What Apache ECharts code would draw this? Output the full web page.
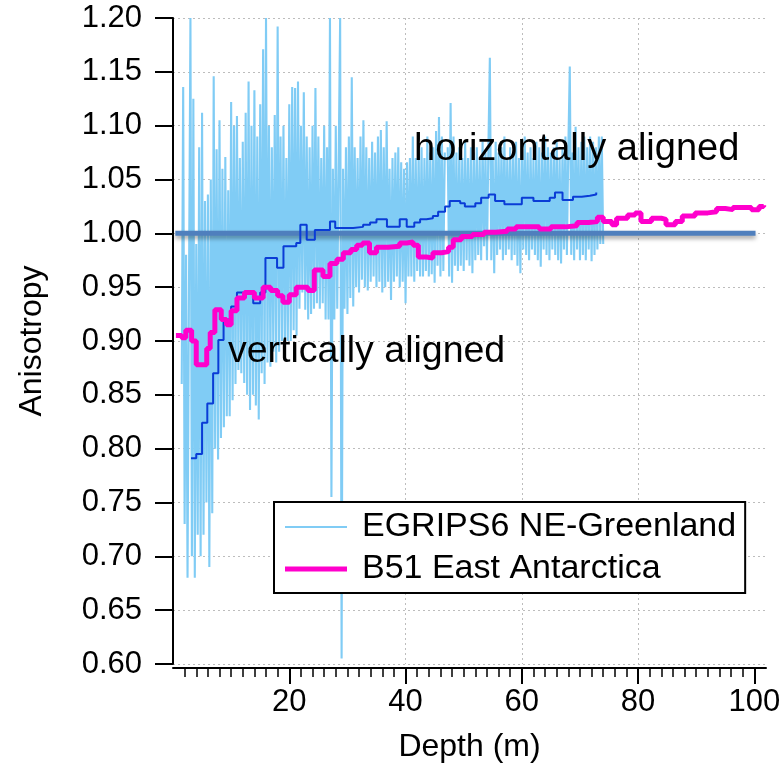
<!DOCTYPE html>
<html>
<head>
<meta charset="utf-8">
<script src="https://cdn.jsdelivr.net/npm/echarts@6/dist/echarts.min.js"></script>
<style>
  html, body { margin: 0; padding: 0; background: #fff; }
  #chart { width: 784px; height: 775px; }
</style>
</head>
<body>
<div id="chart"></div>
<script>
(function () {
  'use strict';

  // EGRIPS6 raw anisotropy, sampled every 0.25 m from 1.5 m (null = gap in core)
  const egripsDepthStart = 1.5;
  const egripsDepthStep = 0.25;
  const egripsValues = [
    0.86, 1.136, 0.73, 0.98, 0.68, 0.95, 1.20, 0.70, 1.125, 0.68,
    0.99, 0.72, 1.08, 0.70, 1.112, 0.72, 1.03, 0.75, 1.036, 0.69,
    1.05, 0.74, 1.146, 0.80, 1.078, 0.79, 1.105, 0.81, 1.06, 0.82,
    1.071, 0.83, 1.04, 0.83, 1.122, 0.845, 1.10, 0.86, 1.109, 0.873,
    1.07, 0.87, 1.085, 0.861, 1.112, 0.85, 1.141, 0.836, 1.10, 0.85,
    1.133, 0.84, 1.09, 0.827, 1.12, 0.87, 1.171, 0.86, 1.20, 0.88,
    1.10, 0.876, 1.08, 0.89, 1.11, 0.88, 1.192, 0.89, 1.09, 0.90,
    1.10, 0.885, 1.07, 0.90, 1.12, 0.90, 1.136, 0.91, 1.135, 0.905,
    1.141, 0.93, 1.10, 0.945, 1.131, 0.929, 1.09, 0.92, 1.08, 0.925,
    1.10, 0.93, 1.135, 0.935, 1.09, 0.93, 1.07, 0.935, 1.10, 0.92,
    1.08, 0.92, 1.20, 0.755, 1.06, 0.92, 1.10, 0.93, 1.07, 1.20,
    0.605, 1.06, 0.93, 1.08, 0.925, 1.09, 0.94, 1.145, 0.932, 1.08,
    0.95, 1.07, 0.945, 1.09, 0.957, 1.105, 0.95, 1.08, 0.947, 1.07,
    0.955, 1.085, 0.96, 1.075, 0.95, 1.09, 0.955, 1.096, 0.945, 1.08,
    0.95, 1.104, 0.955, 1.06, 0.938, 1.07, 0.955, 1.075, 0.96, 1.08,
    0.95, 1.066, 0.955, 1.06, 0.935, 1.066, 0.96, 1.07, 0.96, 1.09,
    0.955, 1.07, 0.965, 1.075, 0.96, 1.08, 0.96, 1.07, 0.965, 1.09,
    0.96, 1.075, 0.962, 1.08, 0.954, 1.095, 0.97, 1.108, 0.96, 1.09,
    0.965, 1.075, null, 1.08, 0.96, 1.121, 0.954, 1.09, 0.97, 1.075,
    0.965, 1.08, 0.97, 1.07, 0.965, 1.085, 0.975, 1.07, 0.97, 1.08,
    0.963, 1.075, 0.975, 1.08, 0.98, 1.07, 0.975, 1.085, 0.988, 1.075,
    0.975, 1.08, 1.163, 0.975, 1.07, 0.963, 1.085, 0.98, 1.075, 0.985,
    1.08, 0.975, 1.09, 0.98, 1.07, 0.985, 1.08, 0.975, 1.075, 0.98,
    1.085, 0.97, 1.07, 0.963, 1.08, 0.985, 1.09, 0.98, 1.075, 0.975,
    1.08, 0.985, 1.07, 0.98, 1.085, 0.975, 1.08, 0.969, 1.075, 0.985,
    1.09, 0.98, 1.08, 0.975, 1.075, 0.985, 1.08, 0.98, 1.085, 0.975,
    1.07, 0.972, 1.08, 0.985, 1.09, 0.98, 1.08, 1.155, 0.98, 1.075,
    0.975, 1.099, 0.985, 1.08, 0.975, 1.085, 0.98, 1.09, 0.975, 1.08,
    0.985, 1.09, 0.974, 1.085, 0.98, 1.08, 0.985, 1.09, 0.99, 1.09,
    0.99
  ];

  // EGRIPS6 running mean (step starts)
  const meanDepth = [
    3.1, 4.0, 5.0, 5.9, 6.9, 7.8, 8.7, 10.0, 11.0, 12.6,
    13.8, 15.0, 15.9, 17.9, 19.0, 21.2, 21.9, 23.0, 24.4, 25.6,
    27.0, 27.9, 31.0, 32.7, 33.9, 35.0, 36.8, 39.0, 40.2, 41.5,
    42.5, 43.6, 44.7, 45.6, 46.8, 47.6, 49.4, 50.2, 52.0, 53.0,
    54.3, 55.4, 57.0, 60.0, 62.0, 64.8, 65.7, 67.0, 68.8, 70.3,
    71.7, 72.8
  ];
  const meanValue = [
    0.791, 0.795, 0.824, 0.842, 0.870, 0.901, 0.920, 0.932, 0.945, 0.945,
    0.935, 0.945, 0.977, 0.968, 0.988, 0.991, 1.008, 0.994, 1.003, 1.003,
    1.011, 1.005, 1.006, 1.008, 1.010, 1.013, 1.006, 1.013, 1.006, 1.010,
    1.013, 1.014, 1.016, 1.020, 1.025, 1.030, 1.028, 1.025, 1.028, 1.033,
    1.036, 1.030, 1.027, 1.033, 1.030, 1.033, 1.038, 1.031, 1.034, 1.035,
    1.036, 1.038
  ];

  // B51 East Antarctica (step starts)
  const b51Depth = [
    0.5, 1.5, 2.2, 3.2, 4.0, 5.3, 5.8, 6.4, 7.2, 8.3,
    9.2, 10.0, 11.0, 12.3, 14.0, 15.5, 16.8, 18.0, 18.9, 20.0,
    21.2, 23.2, 24.3, 25.8, 27.0, 28.2, 29.3, 30.6, 31.6, 32.6,
    33.8, 35.0, 37.0, 39.0, 40.2, 41.3, 42.2, 43.6, 44.7, 46.2,
    47.4, 48.2, 49.6, 51.5, 53.5, 55.5, 57.5, 59.0, 61.5, 63.0,
    65.0, 67.5, 69.5, 71.5, 73.0, 74.0, 75.5, 76.3, 78.2, 79.5,
    80.5, 82.3, 84.0, 84.8, 86.4, 87.6, 89.8, 92.0, 93.5, 95.0,
    96.3, 99.5, 100.8, 101.6
  ];
  const b51Value = [
    0.905, 0.903, 0.910, 0.900, 0.878, 0.878, 0.893, 0.908, 0.929, 0.920,
    0.915, 0.928, 0.940, 0.945, 0.940, 0.950, 0.947, 0.942, 0.936, 0.943,
    0.950, 0.947, 0.966, 0.960, 0.972, 0.976, 0.982, 0.985, 0.989, 0.991,
    0.982, 0.987, 0.988, 0.991, 0.992, 0.989, 0.978, 0.977, 0.982, 0.983,
    0.987, 0.994, 0.997, 0.999, 1.001, 1.002, 1.004, 1.006, 1.006, 1.004,
    1.006, 1.007, 1.010, 1.011, 1.015, 1.011, 1.008, 1.014, 1.017, 1.019,
    1.011, 1.014, 1.013, 1.008, 1.011, 1.016, 1.019, 1.020, 1.023, 1.022,
    1.024, 1.022, 1.025, 1.026
  ];

  // isotropy reference line
  const refLine = [[0.4, 1.0], [100.2, 1.0]];

  const depthMajorTicks = [20, 40, 60, 80, 100];
  const depthMinorTicks = [];
  for (let d = 2; d < 101; d += 2) { if (d % 20 !== 0) depthMinorTicks.push(d); }

  const FONT = '"Liberation Sans", Arial, sans-serif';
  const gridDash = { color: '#bdbdbd', width: 1, type: [2, 3] };
  const C_EGRIPS = '#80ccf5';
  const C_B51 = '#ff00cc';

  // legend line samples: thin guide rects at top/bottom keep the bar centred in the 62x14 box
  const thinLineIcon = 'path://M0,0h62v0.01h-62z M0,6h62v2h-62z M0,13.99h62v0.01h-62z';
  const thickLineIcon = 'path://M0,0h62v0.01h-62z M0,4.5h62v5h-62z M0,13.99h62v0.01h-62z';

  const chart = echarts.init(document.getElementById('chart'), null, { renderer: 'canvas' });

  const egripsData = egripsValues.map((v, i) => [egripsDepthStart + i * egripsDepthStep, v]);
  const meanData = meanDepth.map((d, i) => [d, meanValue[i]]);
  const b51Data = b51Depth.map((d, i) => [d, b51Value[i]]);

  chart.setOption({
    animation: false,
    backgroundColor: '#fff',
    textStyle: { fontFamily: FONT },
    grid: { left: 173, right: 18, top: 18, bottom: 111, containLabel: false },
    xAxis: [
      {
        type: 'value', min: 0, max: 102, interval: 20, position: 'bottom', offset: 4,
        name: 'Depth (m)', nameLocation: 'middle', nameGap: 63,
        nameTextStyle: { fontSize: 32, color: '#000', fontFamily: FONT },
        axisLine: { show: true, lineStyle: { color: '#000', width: 2 } },
        axisTick: { show: true, customValues: depthMajorTicks, length: 16, lineStyle: { color: '#000', width: 2 } },
        axisLabel: { show: true, customValues: depthMajorTicks, margin: 19, fontSize: 31, color: '#000', fontFamily: FONT },
        splitLine: { show: true, showMinLine: false, showMaxLine: false, lineStyle: gridDash }
      },
      {
        type: 'value', min: 0, max: 102, position: 'bottom', offset: 4,
        axisLine: { show: false },
        axisTick: { show: true, customValues: depthMinorTicks, length: 9, lineStyle: { color: '#000', width: 1.5 } },
        axisLabel: { show: false },
        splitLine: { show: false }
      }
    ],
    yAxis: {
      type: 'value', min: 0.6, max: 1.2, interval: 0.05, offset: 3,
      name: 'Anisotropy', nameLocation: 'middle', nameGap: 122,
      nameTextStyle: { fontSize: 32, color: '#000', fontFamily: FONT },
      axisLine: { show: true, lineStyle: { color: '#000', width: 2 } },
      axisTick: { show: true, length: 18, lineStyle: { color: '#000', width: 2 } },
      axisLabel: { margin: 28, fontSize: 31, color: '#000', fontFamily: FONT, formatter: v => v.toFixed(2) },
      splitLine: { show: true, lineStyle: gridDash }
    },
    legend: {
      orient: 'vertical', left: 274, top: 502,
      data: [
        { name: 'EGRIPS6 NE-Greenland', icon: thinLineIcon, itemStyle: { color: C_EGRIPS } },
        { name: 'B51 East Antarctica', icon: thickLineIcon, itemStyle: { color: C_B51 } }
      ],
      backgroundColor: '#fff', borderColor: '#000', borderWidth: 2, borderRadius: 0,
      padding: [8, 9, 7, 11],
      itemWidth: 62, itemHeight: 14, itemGap: 8,
      textStyle: { fontSize: 34, color: '#000', fontFamily: FONT, padding: [0, 0, 0, 10] }
    },
    series: [
      {
        name: 'EGRIPS6 NE-Greenland', type: 'line', data: egripsData,
        symbol: 'none', connectNulls: false, z: 2,
        lineStyle: { color: C_EGRIPS, width: 2.1 }, itemStyle: { color: C_EGRIPS }
      },
      {
        name: 'ref', type: 'line', data: refLine, symbol: 'none', z: 3, silent: true,
        lineStyle: { color: '#4f7fbd', width: 5, shadowColor: 'rgba(0,0,0,0.35)', shadowBlur: 4, shadowOffsetY: 3 }
      },
      {
        name: 'EGRIPS6 mean', type: 'line', step: 'end', data: meanData, symbol: 'none', z: 4,
        lineStyle: { color: '#0a3cd6', width: 2 }
      },
      {
        name: 'B51 East Antarctica', type: 'line', step: 'end', data: b51Data, symbol: 'none', z: 5,
        lineStyle: { color: C_B51, width: 5 }, itemStyle: { color: C_B51 }
      }
    ],
    graphic: [
      { type: 'text', z: 10, style: { x: 414, y: 150, text: 'horizontally aligned', fill: '#000', font: '38px ' + FONT, align: 'left', verticalAlign: 'middle' } },
      { type: 'text', z: 10, style: { x: 228, y: 352, text: 'vertically aligned', fill: '#000', font: '37.5px ' + FONT, align: 'left', verticalAlign: 'middle' } }
    ]
  });

  window.addEventListener('resize', () => chart.resize());
})();
</script>
</body>
</html>
